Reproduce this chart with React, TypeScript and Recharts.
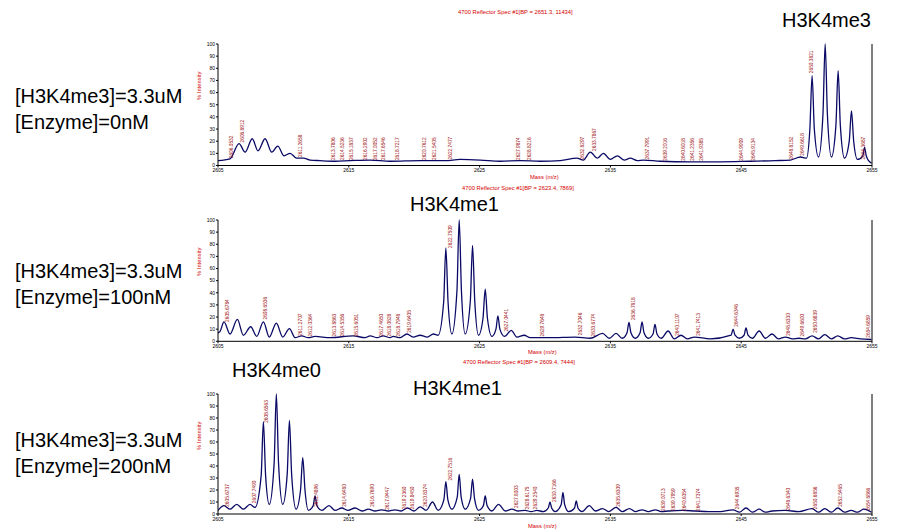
import React from 'react'
import { ComposedChart, Line, Scatter, XAxis, YAxis } from 'recharts'

const massTicks = [2605, 2615, 2625, 2635, 2645, 2655]
const intensityTicks = [0, 10, 20, 30, 40, 50, 60, 70, 80, 90, 100]

// [m/z, % intensity]
const topSpectrum: [number, number][] = [
  [2605.0, 4], [2605.92, 5.5], [2606.61, 18], [2607.07, 11], [2607.62, 22], [2608.06, 12],
  [2608.6, 22], [2609.11, 11], [2609.57, 16], [2610.05, 8], [2610.51, 10], [2611.02, 6],
  [2611.53, 6], [2612.04, 4.5], [2612.8, 4], [2613.95, 3.5], [2615.1, 4], [2616.63, 4.5],
  [2618.16, 3.5], [2620.46, 4], [2622.37, 4], [2623.52, 5], [2625.05, 4.5], [2626.58, 3.5],
  [2628.11, 4], [2629.64, 3.5], [2631.17, 4], [2632.44, 6], [2632.93, 4.5], [2633.46, 11],
  [2634.0, 6], [2634.46, 10], [2635.0, 5], [2635.53, 8], [2636.07, 4.5], [2636.52, 6],
  [2637.06, 4], [2637.52, 4.5], [2638.82, 3.5], [2641.11, 3], [2643.41, 3], [2645.7, 3.5],
  [2647.62, 4], [2648.77, 4.5], [2649.53, 7], [2649.99, 6],
  [2650.25, 30], [2650.42, 74], [2650.59, 30], [2650.91, 7],
  [2651.25, 42], [2651.42, 100], [2651.59, 42], [2651.9, 7],
  [2652.24, 33], [2652.41, 78], [2652.58, 33], [2652.9, 6],
  [2653.26, 20], [2653.43, 45], [2653.6, 20], [2653.89, 5],
  [2654.3, 8], [2654.43, 15], [2654.56, 8], [2654.74, 4], [2654.96, 2],
]

const midSpectrum: [number, number][] = [
  [2605.0, 7], [2605.15, 8], [2605.46, 16], [2605.92, 6], [2606.48, 18], [2606.94, 5],
  [2607.5, 12], [2607.96, 4], [2608.47, 16], [2608.92, 3.5], [2609.46, 15], [2609.95, 3.5],
  [2610.46, 10.5], [2610.89, 3], [2611.4, 4.5], [2611.89, 3], [2612.42, 4], [2613.57, 3],
  [2615.33, 4.5], [2616.25, 3], [2616.63, 4.5], [2617.17, 3], [2617.62, 4.5], [2618.16, 3],
  [2618.39, 4], [2618.93, 3], [2619.44, 6], [2619.92, 3.5], [2620.46, 5], [2621.0, 3.5],
  [2621.47, 6], [2621.83, 5],
  [2622.25, 32], [2622.42, 77], [2622.59, 32], [2622.88, 6],
  [2623.27, 42], [2623.44, 100], [2623.61, 42], [2623.9, 6],
  [2624.29, 33], [2624.46, 79], [2624.63, 33], [2624.92, 5],
  [2625.26, 19], [2625.43, 43], [2625.6, 19], [2625.94, 4],
  [2626.25, 10], [2626.4, 21], [2626.55, 10], [2626.91, 4],
  [2627.42, 9], [2627.85, 3.5], [2628.41, 5], [2628.87, 3], [2630.4, 3], [2632.31, 3.5],
  [2633.46, 2.5], [2634.4, 6.5], [2634.92, 2.5], [2635.43, 6.5], [2635.91, 2.5],
  [2636.27, 7], [2636.42, 15.5], [2636.57, 7], [2636.9, 2.5],
  [2637.27, 7], [2637.42, 16], [2637.57, 7], [2637.9, 2.5],
  [2638.26, 6], [2638.41, 14], [2638.56, 6], [2638.89, 2.5],
  [2639.41, 8.5], [2639.89, 2], [2640.4, 5], [2640.88, 2], [2641.42, 3.5], [2642.64, 2],
  [2644.23, 5], [2644.38, 10], [2644.53, 5], [2644.86, 2.5],
  [2645.22, 5], [2645.37, 11], [2645.52, 5], [2645.86, 2.5],
  [2646.37, 8.5], [2646.85, 2.5], [2647.36, 6],
  [2647.85, 2], [2648.38, 3.5], [2648.92, 2], [2649.4, 2.5], [2649.91, 2], [2650.42, 4.5],
  [2650.91, 2], [2651.39, 5.5], [2651.9, 2], [2652.38, 4.5], [2652.9, 2], [2653.41, 3],
  [2654.12, 2], [2654.96, 1.5],
]

const lowSpectrum: [number, number][] = [
  [2605.0, 3], [2605.46, 7], [2605.92, 4], [2606.43, 8], [2606.94, 4], [2607.45, 8],
  [2607.83, 5.5],
  [2608.3, 32], [2608.47, 77], [2608.64, 32], [2608.92, 8],
  [2609.29, 42], [2609.46, 100], [2609.63, 42], [2609.95, 8],
  [2610.29, 33], [2610.46, 78], [2610.63, 33], [2610.97, 4],
  [2611.31, 20], [2611.48, 47], [2611.65, 20], [2611.91, 3],
  [2612.28, 7], [2612.42, 15], [2612.56, 7], [2612.93, 3],
  [2613.49, 7], [2613.95, 3], [2614.46, 5], [2614.95, 3], [2615.48, 5], [2616.02, 2.5], [2616.5, 4],
  [2617.01, 2.5], [2617.52, 3.5], [2618.01, 2.5], [2618.54, 3.5], [2619.0, 2.5], [2619.48, 5],
  [2619.99, 2.5], [2620.46, 6], [2620.91, 3], [2621.4, 10], [2621.83, 3],
  [2622.27, 12], [2622.42, 27], [2622.57, 12], [2622.88, 4],
  [2623.29, 14], [2623.44, 33], [2623.59, 14], [2623.9, 4],
  [2624.31, 13], [2624.46, 29], [2624.61, 13], [2624.92, 3],
  [2625.29, 7], [2625.43, 15], [2625.57, 7], [2625.94, 2.5],
  [2626.45, 8], [2626.96, 2.5], [2627.47, 4], [2627.95, 2.5], [2628.49, 3],
  [2628.95, 2], [2629.38, 3], [2629.87, 2],
  [2630.25, 5], [2630.38, 10], [2630.51, 5], [2630.78, 2],
  [2631.24, 8], [2631.37, 18], [2631.5, 8], [2631.8, 2],
  [2632.26, 5], [2632.39, 11], [2632.52, 5], [2632.83, 2],
  [2633.39, 7], [2633.85, 2.5], [2634.4, 4.5],
  [2634.86, 2], [2635.43, 5.5], [2635.91, 2], [2636.45, 4.5], [2636.9, 2], [2637.42, 3.5],
  [2637.9, 2], [2638.44, 3.5], [2638.89, 2], [2639.45, 2.5], [2640.48, 3], [2641.5, 2.5],
  [2642.51, 2], [2643.41, 2], [2644.38, 3.5], [2644.86, 1.5], [2645.37, 5], [2645.86, 1.5],
  [2646.37, 4], [2646.85, 1.5], [2647.36, 2.5], [2648.38, 3], [2649.4, 2], [2650.42, 4.5],
  [2650.91, 1.5], [2651.39, 4.5], [2651.9, 1.5], [2652.38, 5], [2652.9, 1.5], [2653.41, 3],
  [2653.89, 1.5], [2654.37, 4], [2654.96, 1.5],
]

// [labelled m/z, intensity where the label starts]
const topPeakLabels: [number, number][] = [
  [2606.0532, 6], [2606.8912, 19], [2611.2658, 7], [2613.7806, 4.5], [2614.5236, 4.5],
  [2615.1837, 4.5], [2616.2902, 4.5], [2617.0052, 4.5], [2617.6546, 4.5], [2618.7217, 4.5],
  [2620.7612, 4.5], [2621.5405, 4.5], [2622.7477, 5], [2627.9874, 4.5], [2628.8216, 4.5],
  [2632.8297, 5], [2633.7867, 12], [2637.7991, 5], [2639.2016, 4], [2640.6018, 4],
  [2641.2356, 4], [2641.9385, 4], [2644.9909, 4], [2645.9134, 4], [2648.8152, 5],
  [2649.6618, 8], [2650.3821, 76], [2654.3687, 5],
]

const midPeakLabels: [number, number][] = [
  [2605.6784, 16], [2608.6536, 18], [2611.2707, 4.5], [2612.0364, 4], [2613.8863, 4],
  [2614.5356, 4], [2615.6051, 4], [2617.4650, 4], [2618.0828, 4], [2618.7948, 4],
  [2619.6405, 7], [2622.7509, 77], [2627.0441, 8], [2629.7648, 4], [2632.7046, 5],
  [2633.6774, 4], [2636.7818, 17.5], [2640.1107, 4.5], [2641.7413, 4.5], [2644.6346, 12],
  [2648.6330, 4.5], [2649.6600, 4], [2650.6839, 7], [2654.6859, 3],
]

const lowPeakLabels: [number, number][] = [
  [2605.6737, 6], [2607.7490, 9], [2608.6563, 76], [2612.4896, 6], [2614.6480, 6],
  [2616.7690, 6], [2617.9447, 3.5], [2619.2360, 4], [2619.8450, 4], [2620.8374, 6],
  [2622.7516, 28], [2627.8003, 5], [2628.6175, 4], [2629.2540, 4], [2630.7166, 10],
  [2635.6309, 6], [2639.0713, 2.5], [2639.7959, 2.5], [2640.6354, 2.5], [2641.7374, 2.5],
  [2644.6935, 4], [2648.6340, 3], [2650.6856, 4], [2652.5465, 6], [2654.6866, 3],
]

const font = '"Liberation Sans", Arial, sans-serif'
const red = '#d40000'

const PeakLabel = (props: any) => {
  const { cx, cy, payload } = props
  if (cx == null || cy == null) return null
  return (
    <text
      x={cx}
      y={cy}
      dy={1.7}
      transform={`rotate(-90 ${cx} ${cy})`}
      fontSize={4.8}
      fill="#9c1010"
      fontFamily={font}
    >
      {payload.text}
    </text>
  )
}

function Panel(props: {
  spectrum: [number, number][]
  peakLabels: [number, number][]
  top: number
  height: number
  marginTop: number
  marginBottom: number
  maxLabel: string
}) {
  const data = props.spectrum.map(([mz, i]) => ({ mz, i }))
  const labels = props.peakLabels.map(([mz, y]) => ({ mz, y, text: mz.toFixed(4) }))
  const axisTick = { fontSize: 5, fill: '#000', fontFamily: font }
  return (
    <div style={{ position: 'absolute', left: 0, top: props.top }}>
      <ComposedChart
        width={908}
        height={props.height}
        data={data}
        margin={{ top: props.marginTop, right: 0, bottom: props.marginBottom, left: 198 }}
      >
        <XAxis
          dataKey="mz"
          type="number"
          domain={[2605, 2655]}
          ticks={massTicks}
          interval={0}
          allowDataOverflow
          height={12}
          tick={axisTick}
          tickSize={2}
          tickMargin={1}
          tickLine={{ stroke: '#000' }}
          axisLine={{ stroke: '#000' }}
        />
        <YAxis
          yAxisId="l"
          domain={[0, 100]}
          ticks={intensityTicks}
          interval={0}
          width={20}
          tick={axisTick}
          tickSize={2}
          tickMargin={1}
          tickLine={{ stroke: '#000' }}
          axisLine={{ stroke: '#000' }}
        />
        <YAxis
          yAxisId="r"
          orientation="right"
          domain={[0, 100]}
          ticks={[100]}
          width={36}
          tickFormatter={() => props.maxLabel}
          tick={axisTick}
          tickLine={false}
          tickMargin={3}
          axisLine={{ stroke: '#000' }}
        />
        <Line
          yAxisId="l"
          dataKey="i"
          type="monotone"
          stroke="#0a0a66"
          strokeWidth={1.3}
          dot={false}
          isAnimationActive={false}
        />
        <Scatter yAxisId="l" data={labels} dataKey="y" shape={PeakLabel} isAnimationActive={false} />
      </ComposedChart>
    </div>
  )
}

const abs = (left: number, top: number, extra: React.CSSProperties = {}): React.CSSProperties => ({
  position: 'absolute',
  left,
  top,
  whiteSpace: 'nowrap',
  fontFamily: font,
  ...extra,
})

const big: React.CSSProperties = { fontSize: 20, lineHeight: '20px', color: '#000' }
const cond: React.CSSProperties = { fontSize: 20, lineHeight: '26px', color: '#000' }
const small: React.CSSProperties = { fontSize: 5.8, lineHeight: '6px', color: red }

export default function App() {
  return (
    <div style={{ position: 'relative', width: 908, height: 532, background: '#fff', overflow: 'hidden' }}>
      <style>{'body{margin:0}'}</style>

      <Panel spectrum={topSpectrum} peakLabels={topPeakLabels} top={0} height={180} marginTop={44} marginBottom={2.5} maxLabel="1.1E+4" />
      <Panel spectrum={midSpectrum} peakLabels={midPeakLabels} top={180} height={176} marginTop={40} marginBottom={2.7} maxLabel="7869" />
      <Panel spectrum={lowSpectrum} peakLabels={lowPeakLabels} top={356} height={176} marginTop={38} marginBottom={6} maxLabel="7444" />

      <div style={abs(458, 9, small)}>4700 Reflector Spec #1[BP = 2651.3, 11434]</div>
      <div style={abs(462, 185, small)}>4700 Reflector Spec #1[BP = 2623.4, 7869]</div>
      <div style={abs(463, 359, small)}>4700 Reflector Spec #1[BP = 2609.4, 7444]</div>

      <div style={abs(530, 174, small)}>Mass (m/z)</div>
      <div style={abs(528, 349, small)}>Mass (m/z)</div>
      <div style={abs(528, 523, small)}>Mass (m/z)</div>

      {[87, 263, 437].map((y) => (
        <div key={y} style={abs(186, y - 3, { ...small, transform: 'rotate(-90deg)', transformOrigin: '13px 3px' })}>
          % Intensity
        </div>
      ))}

      <div style={abs(782, 10, big)}>H3K4me3</div>
      <div style={abs(410, 194, big)}>H3K4me1</div>
      <div style={abs(232, 360, big)}>H3K4me0</div>
      <div style={abs(413, 378, big)}>H3K4me1</div>

      <div style={abs(15, 83, cond)}>
        [H3K4me3]=3.3uM
        <br />
        [Enzyme]=0nM
      </div>
      <div style={abs(15, 258, cond)}>
        [H3K4me3]=3.3uM
        <br />
        [Enzyme]=100nM
      </div>
      <div style={abs(15, 427, cond)}>
        [H3K4me3]=3.3uM
        <br />
        [Enzyme]=200nM
      </div>
    </div>
  )
}
